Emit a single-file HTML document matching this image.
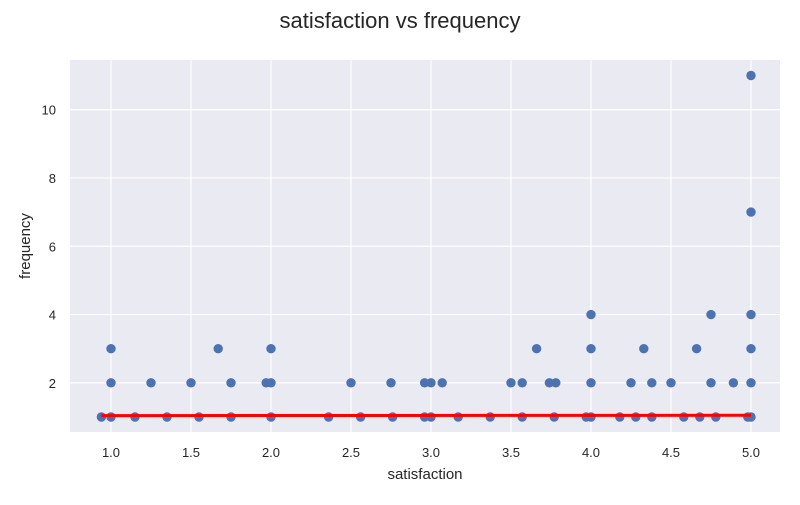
<!DOCTYPE html>
<html><head><meta charset="utf-8"><style>
body{margin:0;background:#fff;font-family:"Liberation Sans",sans-serif}
</style></head><body>
<svg id="chart" width="800" height="500" xmlns="http://www.w3.org/2000/svg" font-family="Liberation Sans, sans-serif">
<text x="400" y="28" text-anchor="middle" font-size="22" fill="#262626">satisfaction vs frequency</text>
<rect x="70" y="60" width="710" height="372" fill="#eaeaf2"/>
<g id="grid"></g><g id="pts"></g><g id="ticks"></g>
<text x="425" y="479" text-anchor="middle" font-size="15" fill="#262626">satisfaction</text>
<text transform="translate(30,246) rotate(-90)" text-anchor="middle" font-size="15" fill="#262626">frequency</text>
</svg>
<script>
const xs = [0.94,1.0,1.15,1.35,1.55,1.75,2.0,2.36,2.56,2.76,2.96,3.0,3.17,3.37,3.57,3.77,3.97,4.0,4.18,4.28,4.38,4.58,4.68,4.78,4.98,5.0,
 1.0,1.25,1.5,1.75,1.97,2.0,2.5,2.75,2.96,3.0,3.07,3.5,3.57,3.74,3.78,4.0,4.25,4.38,4.5,4.75,4.89,5.0,
 1.0,1.67,2.0,3.66,4.0,4.33,4.66,5.0,
 4.0,4.75,5.0, 5.0,5.0];
const ys = [1,1,1,1,1,1,1,1,1,1,1,1,1,1,1,1,1,1,1,1,1,1,1,1,1,1,
 2,2,2,2,2,2,2,2,2,2,2,2,2,2,2,2,2,2,2,2,2,2,
 3,3,3,3,3,3,3,3,
 4,4,4, 7,11];
const xTicks = [1.0,1.5,2.0,2.5,3.0,3.5,4.0,4.5,5.0];
const yTicks = [2,4,6,8,10];
const fitX = [0.94,5.0];
const fitY = [1.04,1.05];
const X = v => 111 + (v-1)*160;
const Y = v => 417 - (v-1)*34.15;
const NS="http://www.w3.org/2000/svg";
const g=document.getElementById('grid'), p=document.getElementById('pts'), t=document.getElementById('ticks');
function mk(tag,attrs,parent){const e=document.createElementNS(NS,tag);for(const k in attrs)e.setAttribute(k,attrs[k]);parent.appendChild(e);return e;}
xTicks.forEach(v=>{
 const l=mk('line',{x1:X(v),x2:X(v),y1:60,y2:432,stroke:'#fff','stroke-width':1.2},g);
 
 
 const tx=mk('text',{x:X(v),y:457,'text-anchor':'middle','font-size':13,fill:'#262626'},t);
 tx.textContent=v.toFixed(1);
 
 
});
yTicks.forEach(v=>{
 const l=mk('line',{x1:70,x2:780,y1:Y(v),y2:Y(v),stroke:'#fff','stroke-width':1.2},g);
 
 
 const tx=mk('text',{x:56,y:Y(v)+5,'text-anchor':'end','font-size':13,fill:'#262626'},t);
 tx.textContent=v;
 
 
});
xs.forEach((v,i)=>{
 const c=mk('circle',{cx:X(v),cy:Y(ys[i]),r:4.7,fill:'#4c72b0'},p);
 
 
});
const fl=mk('line',{x1:X(fitX[0]),x2:X(fitX[1]),y1:Y(fitY[0]),y2:Y(fitY[1]),stroke:'#ff0000','stroke-width':3},p);


</script>
</body></html>
